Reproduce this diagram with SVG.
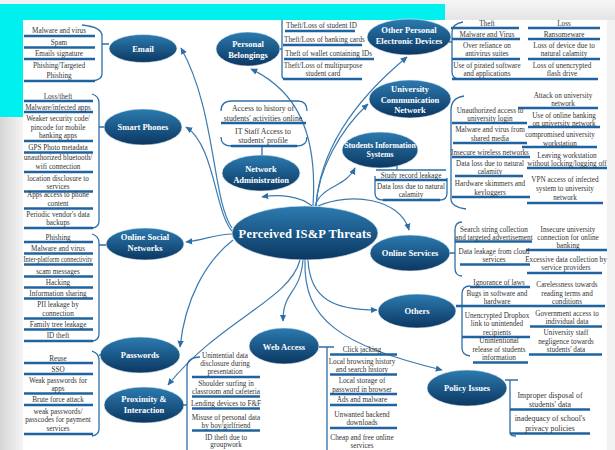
<svg xmlns="http://www.w3.org/2000/svg" width="615" height="450" viewBox="0 0 615 450">
<defs>
<linearGradient id="eg" x1="0" y1="0" x2="0" y2="1"><stop offset="0" stop-color="#2c7bb0"/><stop offset="1" stop-color="#0b3761"/></linearGradient>
<linearGradient id="lg" x1="0" y1="0" x2="1" y2="0"><stop offset="0" stop-color="#d6d6d6"/><stop offset="1" stop-color="#f4f4f4"/></linearGradient>
<linearGradient id="tg" x1="0" y1="0" x2="0" y2="1"><stop offset="0" stop-color="#f6f6f6"/><stop offset="1" stop-color="#e4e4e4"/></linearGradient>
<marker id="ah" viewBox="0 0 10 10" refX="9" refY="5" markerWidth="7" markerHeight="7" markerUnits="userSpaceOnUse" orient="auto"><path d="M0,0.5 L10,5 L0,9.5 Z" fill="#2d6ea6"/></marker>
</defs>
<style>
.e{fill:url(#eg);stroke:#e8f0f7;stroke-width:0.6}
.l{font-family:"Liberation Serif","Times New Roman",serif;font-weight:bold;fill:#fff;font-size:8.5px;text-anchor:middle}
.t{font-family:"Liberation Serif","Times New Roman",serif;fill:#333;font-size:7.2px;text-anchor:middle}
.t2{font-size:7.8px}
.s{text-anchor:start}
.u{stroke:#1f64a0;stroke-width:2.4;fill:none}
.b{stroke:#2e6fa8;stroke-width:1.3;fill:none}
.c{stroke:#3a7bb2;stroke-width:1.2;fill:none;marker-end:url(#ah)}
</style>
<rect width="615" height="450" fill="#f2f2f2"/>
<rect x="445" y="0" width="170" height="20" fill="url(#tg)"/>
<rect x="0" y="117" width="23" height="333" fill="url(#lg)"/>
<rect x="0" y="4" width="445" height="16" fill="#00f0f0"/>
<rect x="0" y="4" width="23" height="113" fill="#00f0f0"/>
<rect x="23" y="20" width="584" height="430" fill="#ffffff"/>

<g id="connectors">
<path class="c" d="M313 206 C318 130 295 90 251 69"/>
<path class="c" d="M232 228 C212 200 216 110 181 48"/>
<path class="c" d="M233 232 C215 215 215 145 186 127"/>
<path class="c" d="M233 234 C215 234 205 240 186 242"/>
<path class="c" d="M233 240 C205 262 185 300 180 347"/>
<path class="c" d="M300 260 C290 300 220 320 168 385"/>
<path class="c" d="M303 260 C300 295 283 290 283 321"/>
<path class="c" d="M308 260 C310 300 335 310 377 310"/>
<path class="c" d="M305 260 C303 320 340 345 442 370"/>
<path class="c" d="M318 206 C350 192 400 198 409 230"/>
<path class="c" d="M312 206 C300 196 280 194 262 197"/>
<path class="c" d="M315 206 C322 185 345 188 355 168"/>
<path class="c" d="M316 206 C318 170 340 130 368 104"/>
<path class="c" d="M316 206 C320 150 355 100 407 57"/>
</g>

<g id="central">
<ellipse class="e" cx="305" cy="233" rx="73" ry="27"/>
<text class="l" x="305" y="238" style="font-size:12.5px;letter-spacing:0.2px">Perceived IS&amp;P Threats</text>
</g>

<g id="email">
<ellipse class="e" cx="143" cy="48.5" rx="34" ry="14"/>
<text class="l" x="143" y="51.5">Email</text>
<path class="b" d="M82 25 Q102 27 102 36 L102 74 Q102 80 92 81 M102 44 L109 44"/>
<path class="u" d="M24 36H95M24 47.5H95M24 59H95M24 81H95"/>
<text class="t" x="59" y="32.5">Malware and virus</text>
<text class="t" x="59" y="44.5">Spam</text>
<text class="t" x="59" y="55.5">Emails signature</text>
<text class="t" x="59" y="67.5">Phishing/Targeted</text>
<text class="t" x="59" y="77.5">Phishing</text>
</g>

<g id="smart-phones">
<ellipse class="e" cx="143" cy="127" rx="39" ry="18"/>
<text class="l" x="143" y="130">Smart Phones</text>
<path class="b" d="M92 94 Q99 96 99 103 L99 221 Q99 227 93 228 M99 127 L104 127"/>
<path class="u" d="M24 101H93M24 112H93M24 141H93M24 152.5H93M24 172H93M24 191.5H93M24 208.5H93M24 228H93"/>
<text class="t" x="58" y="98.5">Loss/theft</text>
<text class="t" x="58" y="109.5">Malware/infected apps</text>
<text class="t" x="58" y="120.5">Weaker security code/</text>
<text class="t" x="58" y="129.5">pincode for mobile</text>
<text class="t" x="58" y="137.5">banking apps</text>
<text class="t" x="58" y="149.5">GPS Photo metadata</text>
<text class="t" x="58" y="159.5">unauthorized bluetooth/</text>
<text class="t" x="58" y="168.5">wifi connection</text>
<text class="t" x="58" y="180.5">location disclosure to</text>
<text class="t" x="58" y="188.5">services</text>
<text class="t" x="58" y="196.5">Apps access to phone</text>
<text class="t" x="58" y="205.5">content</text>
<text class="t" x="58" y="216.5">Periodic vendor's data</text>
<text class="t" x="58" y="224.5">backups</text>
</g>

<g id="online-social-networks">
<ellipse class="e" cx="145" cy="244" rx="39" ry="16"/>
<text class="l" x="145" y="240">Online Social</text>
<text class="l" x="145" y="250.5">Networks</text>
<path class="b" d="M92 234 Q99 236 99 243 L99 334 Q99 340 93 341 M99 245 L106 245"/>
<path class="u" d="M24 242H93M24 253.5H93M24 264.5H93M24 276.5H93M24 287.5H93M24 298.5H93M24 318.5H93M24 329.5H93M24 341H93"/>
<text class="t" x="58" y="239.5">Phishing</text>
<text class="t" x="58" y="250.5">Malware and virus</text>
<text class="t" x="58" y="261.5" textLength="69" lengthAdjust="spacingAndGlyphs">Inter-platform connectivity</text>
<text class="t" x="58" y="273.5">scam messages</text>
<text class="t" x="58" y="284.5">Hacking</text>
<text class="t" x="58" y="295.5">Information sharing</text>
<text class="t" x="58" y="306.5">PII leakage by</text>
<text class="t" x="58" y="315.5">connection</text>
<text class="t" x="58" y="326.5">Family tree leakage</text>
<text class="t" x="58" y="337.5">ID theft</text>
</g>

<g id="passwords">
<ellipse class="e" cx="140" cy="355" rx="40" ry="18"/>
<text class="l" x="140" y="358">Passwords</text>
<path class="b" d="M92 351 Q99 353 99 360 L99 429 Q99 435 92 436 M99 355 L101 355"/>
<path class="u" d="M24 363H93M24 374H93M24 393.5H93M24 405H93M24 434H93"/>
<text class="t" x="58" y="360.5">Reuse</text>
<text class="t" x="58" y="371.5">SSO</text>
<text class="t" x="58" y="382.5">Weak passwords for</text>
<text class="t" x="58" y="390.5">apps</text>
<text class="t" x="58" y="401.5">Brute force attack</text>
<text class="t" x="58" y="413.5">weak passwords/</text>
<text class="t" x="58" y="421.5">passcodes for payment</text>
<text class="t" x="58" y="430.5">services</text>
</g>

<g id="proximity-interaction">
<ellipse class="e" cx="144" cy="405" rx="40" ry="18"/>
<text class="l" x="144" y="402">Proximity &amp;</text>
<text class="l" x="144" y="412.5">Interaction</text>
<path class="b" d="M200 357 Q187 357 187 368 L187 450 M183 405 L187 405"/>
<path class="u" d="M192 377H260M192 396.5H260M192 408.5H260M192 430.5H260"/>
<text class="t" x="225" y="357.5">Unintential data</text>
<text class="t" x="225" y="365.5">disclosure during</text>
<text class="t" x="225" y="373.5">presentation</text>
<text class="t" x="226" y="385.5">Shoulder surfing in</text>
<text class="t" x="226" y="393.5">classroom and cafeteria</text>
<text class="t" x="226" y="405.5">Lending devices to F&amp;F</text>
<text class="t" x="226" y="419.5">Misuse of personal data</text>
<text class="t" x="226" y="427.5">by boy/girlfriend</text>
<text class="t" x="226" y="439.5">ID theft due to</text>
<text class="t" x="226" y="447">groupwork</text>
</g>

<g id="web-access">
<ellipse class="e" cx="284" cy="346" rx="35" ry="18"/>
<text class="l" x="284" y="349.5">Web Access</text>
<path class="b" d="M319 347 L334 347 M327 347 L327 450"/>
<path class="u" d="M330 354.5H397M330 374.5H397M330 394H397M330 405H397M330 428H397"/>
<text class="t" x="362" y="351.5">Click jacking</text>
<text class="t" x="362" y="363.5">Local browsing history</text>
<text class="t" x="362" y="371.5">and search history</text>
<text class="t" x="362" y="382.5">Local storage of</text>
<text class="t" x="362" y="391.5">password in browser</text>
<text class="t" x="362" y="401.5">Ads and malware</text>
<text class="t" x="362" y="416.5">Unwanted backend</text>
<text class="t" x="362" y="424.5">downloads</text>
<text class="t" x="362" y="439.5">Cheap and free online</text>
<text class="t" x="362" y="447.5">services</text>
</g>

<g id="others">
<ellipse class="e" cx="417" cy="311" rx="39" ry="17"/>
<text class="l" x="417" y="314">Others</text>
<path class="b" d="M470 286 Q462 286 462 294 L462 348 Q462 355 470 356"/>
<path class="u" d="M470 287H530M456 306H605M462 337H530M473 362.5H528M530 326.5H602M529 354.5H602"/>
<text class="t" x="499" y="284.5">Ignorance of laws</text>
<text class="t" x="497" y="295.5">Bugs in software and</text>
<text class="t" x="497" y="303.5">hardware</text>
<text class="t" x="497" y="317.5">Unencrypted Dropbox</text>
<text class="t" x="497" y="325.5">link to unintended</text>
<text class="t" x="497" y="334.5">recipients</text>
<text class="t" x="499" y="342.5">Unintentional</text>
<text class="t" x="499" y="351.5">release of students</text>
<text class="t" x="499" y="359.5">information</text>
<text class="t" x="567" y="286.5">Carelessness towards</text>
<text class="t" x="567" y="295.5">reading terms and</text>
<text class="t" x="567" y="304">conditions</text>
<text class="t" x="567" y="315.5">Government access to</text>
<text class="t" x="567" y="323.5">individual data</text>
<text class="t" x="566" y="334.5">University staff</text>
<text class="t" x="566" y="343.5">negligence towards</text>
<text class="t" x="566" y="351.5">students' data</text>
</g>

<g id="policy-issues">
<ellipse class="e" cx="467" cy="388" rx="40" ry="18"/>
<text class="l" x="467" y="391">Policy Issues</text>
<path class="b" d="M505 380 L518 380 M510 380 L510 433 Q510 436 516 436"/>
<path class="u" d="M510 409.5H590M510 433.5H590"/>
<text class="t t2" x="550" y="397.5">Improper disposal of</text>
<text class="t t2" x="550" y="406.5">students' data</text>
<text class="t t2" x="550" y="420.5">inadequacy of school's</text>
<text class="t t2" x="550" y="430.5">privacy policies</text>
</g>

<g id="online-services">
<ellipse class="e" cx="410" cy="253" rx="40" ry="18"/>
<text class="l" x="410" y="256">Online Services</text>
<path class="b" d="M462 222 Q455 222 455 230 L455 268 Q455 276 462 276 M450 253 L455 253"/>
<path class="u" d="M455 241.5H532M460 264.5H530M526 250H607M527 273H602"/>
<text class="t" x="494" y="231.5">Search string collection</text>
<text class="t" x="494" y="239.5">and targeted advertisement</text>
<text class="t" x="494" y="253.5">Data leakage from cloud</text>
<text class="t" x="494" y="261.5">services</text>
<text class="t" x="568" y="231.5">Insecure university</text>
<text class="t" x="568" y="239.5">connection for online</text>
<text class="t" x="568" y="247.5">banking</text>
<text class="t" x="566" y="261.5">Excessive data collection by</text>
<text class="t" x="566" y="269.5">service providers</text>
</g>

<g id="network-administration">
<ellipse class="e" cx="261" cy="173" rx="39" ry="18"/>
<text class="l" x="261" y="172">Network</text>
<text class="l" x="261" y="183">Administration</text>
<path class="b" d="M221 111 Q221 101 232 101 L298 101 Q307 101 307 111 M221 137 Q221 146 231 146 L297 146 Q307 146 307 137 M262 146 L262 155"/>
<path class="u" d="M221 123H306M231 146H297"/>
<text class="t t2" x="263" y="110.5">Access to history of</text>
<text class="t t2" x="263" y="120.5">students' activities online</text>
<text class="t t2" x="263" y="133.5">IT Staff Access to</text>
<text class="t t2" x="263" y="142.5">students' profile</text>
</g>

<g id="students-information-systems">
<ellipse class="e" cx="380" cy="150" rx="38" ry="18"/>
<text class="l" x="380" y="148" style="font-size:7.8px">Students Information</text>
<text class="l" x="380" y="157" style="font-size:7.8px">Systems</text>
<path class="b" d="M376 170H446M375 176 L375 193 Q375 200 383 200 L440 200 Q447 200 447 193 L447 178 M397 166 L397 170"/>
<path class="u" d="M375 180H447M383 200H440"/>
<text class="t" x="411" y="177.5">Study record leakage</text>
<text class="t" x="411" y="188.5">Data loss due to natural</text>
<text class="t" x="411" y="196.5">calamity</text>
</g>

<g id="university-communication-network">
<ellipse class="e" cx="410" cy="99" rx="41" ry="19"/>
<text class="l" x="410" y="92">University</text>
<text class="l" x="410" y="102.5">Communication</text>
<text class="l" x="410" y="113">Network</text>
<path class="b" d="M464 96 Q451 98 451 110 L451 200 Q452 207 466 209"/>
<path class="u" d="M452 123H527M453 143H527M452 157H530M455 176H523M452 197H530M518 108H598M528 127H600M522 147H597M527 168H607M527 203H603"/>
<text class="t" x="490" y="112.5">Unauthorized access to</text>
<text class="t" x="490" y="120.5">university login</text>
<text class="t" x="490" y="131.5">Malware and virus from</text>
<text class="t" x="490" y="140.5">shared media</text>
<text class="t" x="490" y="154.5">Insecure wireless networks</text>
<text class="t" x="490" y="165.5">Data loss due to natural</text>
<text class="t" x="490" y="173.5">calamity</text>
<text class="t" x="490" y="185.5">Hardware skimmers and</text>
<text class="t" x="490" y="194.5">keyloggers</text>
<text class="t" x="563" y="97.5">Attack on university</text>
<text class="t" x="563" y="106">network</text>
<text class="t" x="564" y="117.5">Use of online banking</text>
<text class="t" x="564" y="125.5">on university network</text>
<text class="t" x="560" y="136.5">compromised university</text>
<text class="t" x="560" y="145.5">workstation</text>
<text class="t" x="567" y="157.5">Leaving workstation</text>
<text class="t" x="567" y="165.5">without locking/logging off</text>
<text class="t" x="565" y="181.5">VPN access of infected</text>
<text class="t" x="565" y="190.5">system to university</text>
<text class="t" x="565" y="199.5">network</text>
</g>

<g id="other-personal-electronic-devices">
<ellipse class="e" cx="409" cy="37" rx="42" ry="18"/>
<text class="l" x="409" y="33">Other Personal</text>
<text class="l" x="409" y="44">Electronic Devices</text>
<path class="b" d="M463 22 Q452 24 452 32 L452 72 Q452 79 460 79 M449 42 L452 42"/>
<path class="u" d="M451 28H519M452 39H520M452 59H520M452 79H520M528 28H600M528 39H600M528 59H600M519 79H598"/>
<text class="t" x="487" y="25.5">Theft</text>
<text class="t" x="487" y="36.5">Malware and Virus</text>
<text class="t" x="487" y="47.5">Over reliance on</text>
<text class="t" x="487" y="55.5">antivirus suites</text>
<text class="t" x="487" y="67.5">Use of pirated software</text>
<text class="t" x="487" y="75.5">and applications</text>
<text class="t" x="564" y="25.5">Loss</text>
<text class="t" x="564" y="36.5">Ransomeware</text>
<text class="t" x="564" y="47.5">Loss of device due to</text>
<text class="t" x="564" y="55.5">natural calamity</text>
<text class="t" x="562" y="67.5">Loss of unencrypted</text>
<text class="t" x="562" y="75.5">flash drive</text>
</g>

<g id="personal-belongings">
<ellipse class="e" cx="248" cy="49" rx="32" ry="17"/>
<text class="l" x="248" y="47">Personal</text>
<text class="l" x="248" y="57.5">Belongings</text>
<path class="b" d="M282 20 L282 76 Q282 79 286 79 M280 49 L282 49"/>
<path class="u" d="M285 31H355M283 45H362M284 59H374M283 79H362"/>
<text class="t s" x="286" y="27.5">Theft/Loss of student ID</text>
<text class="t s" x="284" y="41.5">Theft/Loss of banking cards</text>
<text class="t s" x="285" y="55.5">Theft of wallet containing IDs</text>
<text class="t" x="323" y="67.5">Theft/Loss of multipurpose</text>
<text class="t" x="323" y="75.5">student card</text>
</g>
</svg>
